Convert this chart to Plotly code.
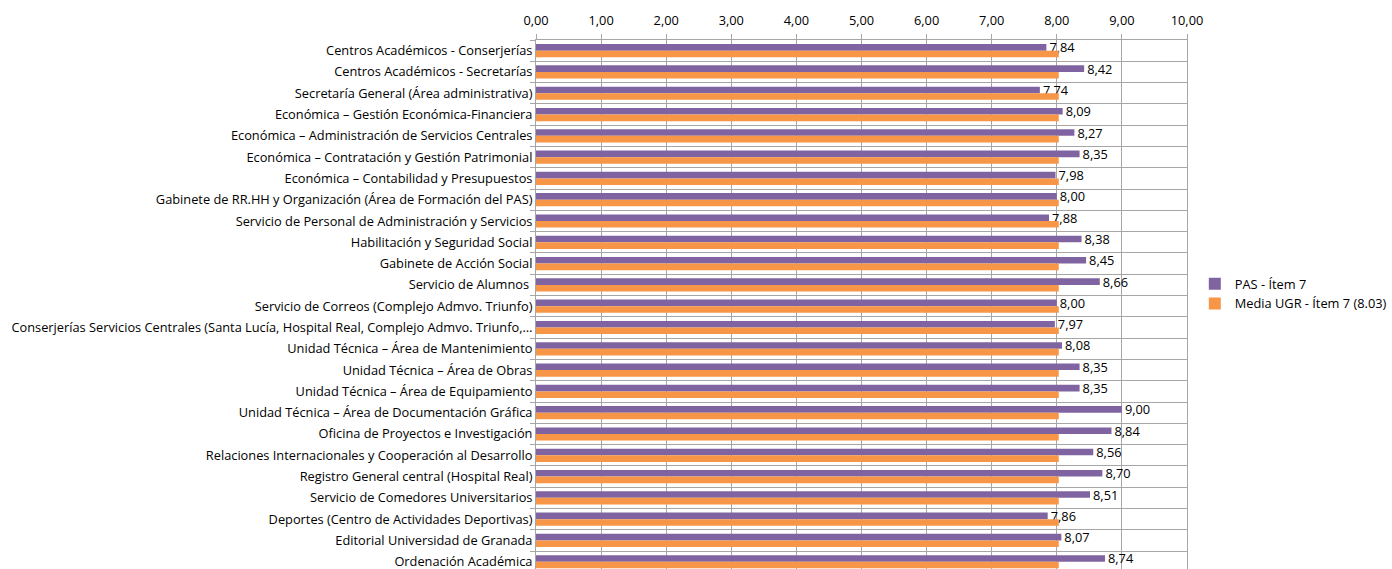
import plotly.graph_objects as go

categories = [
    "Centros Académicos - Conserjerías",
    "Centros Académicos - Secretarías",
    "Secretaría General (Área administrativa)",
    "Económica – Gestión Económica-Financiera",
    "Económica – Administración de Servicios Centrales",
    "Económica – Contratación y Gestión Patrimonial",
    "Económica – Contabilidad y Presupuestos",
    "Gabinete de RR.HH y Organización (Área de Formación del PAS)",
    "Servicio de Personal de Administración y Servicios",
    "Habilitación y Seguridad Social",
    "Gabinete de Acción Social",
    "Servicio de Alumnos ",
    "Servicio de Correos (Complejo Admvo. Triunfo)",
    "Conserjerías Servicios Centrales (Santa Lucía, Hospital Real, Complejo Admvo. Triunfo,…",
    "Unidad Técnica – Área de Mantenimiento",
    "Unidad Técnica – Área de Obras",
    "Unidad Técnica – Área de Equipamiento",
    "Unidad Técnica – Área de Documentación Gráfica",
    "Oficina de Proyectos e Investigación",
    "Relaciones Internacionales y Cooperación al Desarrollo",
    "Registro General central (Hospital Real)",
    "Servicio de Comedores Universitarios",
    "Deportes (Centro de Actividades Deportivas)",
    "Editorial Universidad de Granada",
    "Ordenación Académica",
]

pas_item7 = [7.84, 8.42, 7.74, 8.09, 8.27, 8.35, 7.98, 8.00, 7.88, 8.38, 8.45, 8.66, 8.00,
             7.97, 8.08, 8.35, 8.35, 9.00, 8.84, 8.56, 8.70, 8.51, 7.86, 8.07, 8.74]
media_ugr = [8.03] * len(categories)

x_ticks = [0, 1, 2, 3, 4, 5, 6, 7, 8, 9, 10]
x_tick_labels = ["0,00", "1,00", "2,00", "3,00", "4,00", "5,00", "6,00", "7,00", "8,00", "9,00", "10,00"]

FONT = "Open Sans, Lato, sans-serif"
FS = 12.8
GRID = "#a6a6a6"

fig = go.Figure()
fig.add_trace(go.Bar(
    y=categories, x=pas_item7, orientation="h",
    name="PAS - Ítem 7",
    marker=dict(color="#8064a2", line=dict(width=0)),
    text=[f"{v:.2f}".replace(".", ",") for v in pas_item7],
    textposition="outside", constraintext="none", cliponaxis=False,
    textfont=dict(family=FONT, size=FS, color="#000000"),
))
fig.add_trace(go.Bar(
    y=categories, x=media_ugr, orientation="h",
    name="Media UGR - Ítem 7 (8.03)",
    marker=dict(color="#f79646", line=dict(width=0)),
))

fig.update_layout(
    width=1392, height=569,
    margin=dict(l=536, r=205, t=40, b=0, autoexpand=False),
    paper_bgcolor="white", plot_bgcolor="white",
    barmode="group", bargap=0.38, bargroupgap=0,
    font=dict(family=FONT, size=FS, color="#000000"),
    showlegend=True,
    legend=dict(x=1.012, y=0.52, xanchor="left", yanchor="middle",
                font=dict(family=FONT, size=FS), tracegroupgap=4,
                itemwidth=30, bgcolor="rgba(0,0,0,0)"),
    xaxis=dict(side="top", range=[0, 10], tickvals=x_ticks, ticktext=x_tick_labels,
               showgrid=True, gridcolor=GRID, gridwidth=1,
               ticks="outside", ticklen=5, tickcolor=GRID, ticklabelstandoff=4,
               showline=True, linecolor=GRID, mirror=True, zeroline=False,
               tickfont=dict(family=FONT, size=FS)),
    yaxis=dict(type="category", categoryorder="array", categoryarray=categories,
               range=[24.34, -0.5], tickson="boundaries",
               showgrid=True, gridcolor=GRID, gridwidth=1,
               ticks="outside", ticklen=5, tickcolor=GRID,
               showline=True, linecolor=GRID, mirror=True,
               tickfont=dict(family=FONT, size=FS), automargin=False),
)

fig.write_html("out.html")
